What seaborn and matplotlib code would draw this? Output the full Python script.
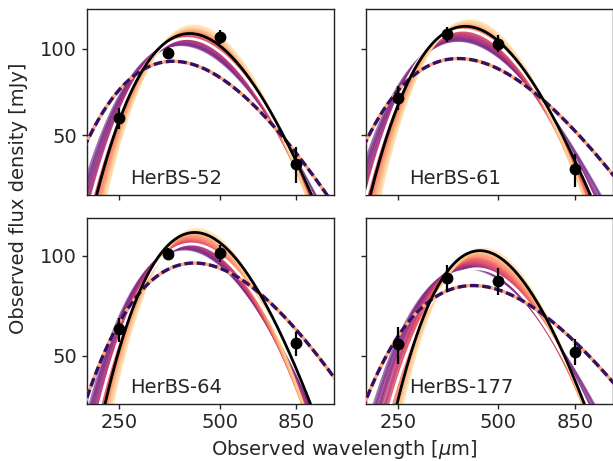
import numpy as np
import pandas as pd
import matplotlib
matplotlib.use("Agg")
import matplotlib.pyplot as plt
import seaborn as sns

# ---------------- data ----------------
sources = ["HerBS-52", "HerBS-61", "HerBS-64", "HerBS-177"]
obs_wave = [250, 350, 500, 850]

flux_52 = [57.3, 96.8, 109.8, 39.6]
err_52 = [5.0, 4.5, 6.5, 5.7]
flux_61 = [67.4, 112.2, 104.1, 38.0]
err_61 = [6.5, 6.5, 7.0, 5.0]
flux_64 = [60.1, 101.2, 101.6, 54.5]
err_64 = [5.0, 4.5, 6.0, 4.5]
flux_177 = [54.1, 85.8, 84.0, 51.4]
err_177 = [7.0, 8.0, 8.0, 4.6]

# model curves: (peak wavelength [um], peak flux [mJy], beta)
black_52 = (407, 112.8, 2.1)
white_52 = (400, 108.4, 1.8)
dash_52 = (363, 90.3, 0.3)
black_61 = (398, 119.5, 2.1)
white_61 = (392, 115.9, 1.8)
dash_61 = (380, 92.3, 0.0)
black_64 = (421, 117.4, 2.1)
white_64 = (412, 108.4, 1.6)
dash_64 = (420, 95.0, 0.0)
black_177 = (440, 103.5, 2.4)
white_177 = (430, 91.3, 1.5)
dash_177 = (420, 81.3, -0.3)

# posterior sample curves
fan_beta_52 = [1.2, 1.3, 1.35, 1.45, 1.5, 1.6, 1.65, 1.7, 1.8, 1.85, 1.9, 2.0, 2.05, 2.1, 2.2, 2.25, 2.3, 2.4, 2.5, 2.55, 2.65, 2.75, 2.9, 3.0]
fan_peak_52 = [103, 103.5, 104.5, 104, 105.5, 106, 106.5, 107.5, 107, 108.5, 109, 109.5, 110.5, 110, 111.5, 112, 112.5, 113.5, 114, 115, 116, 117, 118.5, 120]
fan_lam_52 = [382, 386, 385, 389, 388, 391, 392, 395, 394, 397, 398, 400, 399, 403, 402, 405, 406, 408, 410, 411, 413, 415, 418, 420]

fan_beta_61 = [1.0, 1.1, 1.2, 1.3, 1.35, 1.45, 1.5, 1.6, 1.7, 1.75, 1.8, 1.9, 2.0, 2.05, 2.15, 2.2, 2.3, 2.4, 2.5, 2.6, 2.7, 2.8, 2.9, 3.0]
fan_peak_61 = [106.5, 107, 108, 108.5, 109, 110, 110.5, 111, 112, 112.5, 113, 114, 114.5, 115.5, 116, 117, 117.5, 118.5, 119.5, 120.5, 121.5, 122.5, 124, 125]
fan_lam_61 = [378, 381, 380, 383, 382, 385, 386, 387, 386, 389, 390, 392, 391, 394, 395, 396, 398, 398, 400, 402, 403, 405, 408, 410]

fan_beta_64 = [1.2, 1.3, 1.35, 1.45, 1.5, 1.55, 1.65, 1.7, 1.75, 1.8, 1.9, 1.95, 2.0, 2.1, 2.15, 2.2, 2.3, 2.4, 2.45, 2.5, 2.6, 2.7, 2.8, 2.9]
fan_peak_64 = [104.5, 105, 105.5, 106, 106.5, 107, 107.5, 108, 108.5, 109, 109.5, 110, 110.5, 111, 111.5, 112.5, 113, 114, 114.5, 115.5, 116.5, 117.5, 118.5, 120]
fan_lam_64 = [392, 395, 394, 397, 396, 399, 400, 402, 403, 405, 404, 406, 408, 409, 410, 411, 413, 415, 416, 418, 420, 422, 425, 428]

fan_beta_177 = [0.8, 0.9, 1.0, 1.1, 1.15, 1.25, 1.3, 1.4, 1.5, 1.55, 1.6, 1.7, 1.8, 1.85, 1.9, 2.0, 2.1, 2.2, 2.3, 2.4, 2.5, 2.6, 2.7, 2.8]
fan_peak_177 = [91.5, 92, 92.5, 92.5, 93, 93.5, 94, 94, 94.5, 95, 95.5, 96, 96.5, 97, 97.5, 98, 98.5, 99.5, 100, 101, 101.5, 102.5, 103.5, 104.7]
fan_lam_177 = [405, 408, 407, 411, 410, 413, 412, 416, 417, 420, 419, 423, 424, 427, 426, 430, 432, 435, 437, 440, 442, 445, 447, 450]

x_ticks = [250, 500, 850]
top_ylim = (31, 137.3)
bottom_ylim = (35.9, 129.7)

# ---------------- model ----------------
def mbb(lam, lam_peak, s_peak, beta):
    n = 3.0 + beta
    xp = n
    for _ in range(100):
        xp = n * (1 - np.exp(-xp))
    x = xp * lam_peak / lam
    return s_peak * (x ** n / np.expm1(x)) / (xp ** n / np.expm1(xp))

lam_grid = np.geomspace(190, 1150, 300)

panels = [
    ("HerBS-52", flux_52, err_52, black_52, white_52, dash_52, fan_beta_52, fan_peak_52, fan_lam_52),
    ("HerBS-61", flux_61, err_61, black_61, white_61, dash_61, fan_beta_61, fan_peak_61, fan_lam_61),
    ("HerBS-64", flux_64, err_64, black_64, white_64, dash_64, fan_beta_64, fan_peak_64, fan_lam_64),
    ("HerBS-177", flux_177, err_177, black_177, white_177, dash_177, fan_beta_177, fan_peak_177, fan_lam_177),
]

# ---------------- style ----------------
sns.set_theme(style="ticks")
plt.rcParams["font.family"] = ["DejaVu Sans"]
plt.rcParams["axes.edgecolor"] = "#222222"
plt.rcParams["axes.linewidth"] = 1.0
plt.rcParams["xtick.labelsize"] = 14
plt.rcParams["ytick.labelsize"] = 14
plt.rcParams["xtick.major.width"] = 1.0
plt.rcParams["ytick.major.width"] = 1.0
plt.rcParams["xtick.major.size"] = 3.5
plt.rcParams["ytick.major.size"] = 3.5

fig, axes = plt.subplots(2, 2, figsize=(6.13, 4.61), dpi=100, sharex=True, sharey="row")
fig.subplots_adjust(left=0.1414, right=0.9995, top=0.9805, bottom=0.1243, wspace=0.128, hspace=0.126)

magma = sns.color_palette("magma", as_cmap=True)

for ax, (name, flux, err, blk, wht, dsh, fb, fp, fl) in zip(axes.flat, panels):
    bmin, bmax = min(fb), max(fb)
    rows = []
    for i, (b, p, l) in enumerate(zip(fb, fp, fl)):
        cpos = 0.30 + 0.62 * (b - bmin) / (bmax - bmin)
        rows.append(pd.DataFrame({"lam": lam_grid, "flux": mbb(lam_grid, l, p, b),
                                  "curve": i, "cpos": cpos}))
    df = pd.concat(rows, ignore_index=True)
    sns.lineplot(data=df, x="lam", y="flux", hue="cpos", units="curve", estimator=None,
                 palette=magma, hue_norm=(0, 1), alpha=0.6, lw=1.8, legend=False, ax=ax)

    ax.plot(lam_grid, mbb(lam_grid, *wht), color="white", lw=2.0, zorder=3)
    ax.plot(lam_grid, mbb(lam_grid, *dsh), color=magma(0.82), lw=2.4, zorder=3)
    ax.plot(lam_grid, mbb(lam_grid, *dsh), color=magma(0.18), lw=2.4, dashes=(2.6, 1.1), zorder=3.1)
    ax.plot(lam_grid, mbb(lam_grid, *blk), color="black", lw=2.0, zorder=4)
    ax.errorbar(obs_wave, flux, yerr=err, fmt="o", color="black", ms=7.5, elinewidth=1.6,
                capsize=0, zorder=5)

    ax.set_xscale("log")
    ax.set_yscale("log")
    ax.set_xlim(200, 1100)
    ax.set_xticks(x_ticks)
    ax.set_xticklabels([str(t) for t in x_ticks])
    ax.xaxis.set_minor_locator(matplotlib.ticker.NullLocator())
    ax.yaxis.set_minor_locator(matplotlib.ticker.NullLocator())
    ax.set_yticks([50, 100])
    ax.set_yticklabels(["50", "100"])
    ax.set_xlabel("")
    ax.set_ylabel("")
    ax.text(0.175, 0.06, name, transform=ax.transAxes, fontsize=14, ha="left", va="baseline", zorder=6)

for ax in axes[0]:
    ax.set_ylim(*top_ylim)
for ax in axes[1]:
    ax.set_ylim(*bottom_ylim)
for ax in axes[0]:
    ax.tick_params(labelbottom=False)
for ax in axes[:, 1]:
    ax.tick_params(labelleft=False)

fig.text(0.030, 0.570, "Observed flux density [mJy]", rotation=90, fontsize=14, ha="center", va="center")
fig.text(0.562, 0.026, r"Observed wavelength [$\mu$m]", fontsize=14, ha="center", va="center")

fig.savefig("out.png", dpi=100)
